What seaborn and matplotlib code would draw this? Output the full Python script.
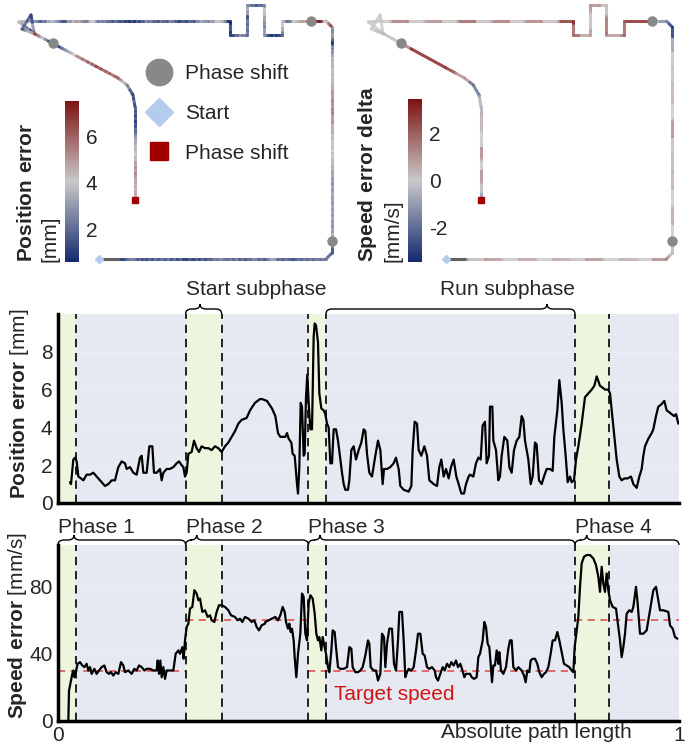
import numpy as np
import pandas as pd
import matplotlib
matplotlib.use("Agg")
import matplotlib.pyplot as plt
import matplotlib.transforms as mtransforms
import seaborn as sns
from matplotlib.collections import LineCollection
from matplotlib.colors import Normalize
from matplotlib.cm import ScalarMappable
from matplotlib.lines import Line2D
from matplotlib.path import Path
from matplotlib.patches import PathPatch

# ---- data -------------------------------------------------------------
TOTAL_MM = 1863  # total path length (arbitrary units)

pos_s = [36, 39, 46, 51, 56, 61, 69, 76, 86, 96, 106, 116, 126, 136, 141, 151, 161, 171, 181, 191,
         201, 206, 216, 226, 236, 246, 251, 256, 266, 274, 283, 288, 296, 306, 311, 316, 326, 336, 346, 356,
         363, 371, 376, 381, 386, 391, 401, 408, 416, 423, 431, 441, 451, 461, 471, 481, 491, 501, 511, 521,
         531, 541, 551, 566, 576, 591, 606,
         612, 627, 642, 652, 660, 667, 682, 687, 692, 700, 704, 710, 717, 720, 724, 728, 732, 737, 740, 744,
         748, 752, 757, 762, 767, 770, 774, 780, 784, 790, 797, 802, 807, 812, 817, 822, 827, 834, 840, 847,
         852, 857, 862, 870, 874, 880, 887, 894, 902, 910, 917, 922, 927, 934, 942, 952, 960, 967, 974, 978,
         987, 997, 1007, 1014, 1022, 1027, 1037, 1052, 1060, 1064, 1070, 1077, 1082, 1090, 1099, 1107, 1114,
         1127, 1137, 1144, 1150, 1157, 1164, 1172, 1179, 1187, 1195, 1202, 1210, 1218, 1224, 1232,
         1236, 1246, 1254, 1261, 1268, 1274, 1281, 1286, 1293, 1296, 1303, 1306, 1314, 1321, 1326, 1331,
         1339, 1348, 1354, 1361, 1368, 1376, 1384, 1391, 1396, 1401, 1411, 1418, 1424, 1431, 1436, 1443,
         1451, 1458, 1466, 1476, 1484, 1489, 1498, 1504, 1511, 1516, 1523, 1529, 1536, 1541, 1548, 1554,
         1561, 1571, 1581, 1591, 1601, 1609, 1616, 1626, 1634, 1641, 1651, 1656, 1664, 1671, 1676, 1684,
         1691, 1699, 1709, 1719, 1726, 1736, 1744, 1751, 1756, 1761, 1771, 1781, 1786, 1794, 1801, 1809,
         1819, 1826, 1834, 1841, 1848, 1854, 1861]
pos_err = [1.1, 1.0, 2.3, 2.4, 2.2, 1.4, 1.3, 1.2, 1.5, 1.5, 1.6, 1.4, 1.2, 1.0, 0.9, 1.0, 1.2, 1.2, 1.9, 2.2,
           2.1, 1.8, 1.9, 1.6, 1.5, 2.4, 2.5, 1.6, 1.6, 3.0, 3.0, 1.6, 1.6, 1.8, 1.2, 1.6, 1.8, 1.8, 1.9, 2.1,
           2.2, 2.0, 1.9, 1.4, 1.6, 2.6, 2.7, 3.3, 2.9, 2.7, 3.0, 2.9, 2.9, 2.8, 3.0, 2.9, 2.7, 3.0, 3.2, 3.5,
           3.8, 4.2, 4.4, 4.5, 4.9, 5.3, 5.5,
           5.5, 5.4, 5.0, 4.6, 3.7, 3.5, 3.5, 3.7, 3.4, 3.2, 2.6, 2.5, 1.0, 0.5, 1.9, 5.3, 5.1, 2.5, 2.6, 5.6,
           6.8, 5.3, 3.9, 3.9, 8.8, 9.5, 9.4, 8.5, 5.8, 5.0, 4.9, 4.7, 4.2, 4.0, 2.1, 2.1, 3.9, 3.9, 3.3, 2.3,
           1.6, 1.0, 0.7, 0.7, 1.2, 2.8, 3.0, 2.3, 2.8, 3.2, 3.9, 3.8, 2.6, 1.6, 1.4, 2.5, 3.3, 2.8, 1.0, 1.8,
           1.8, 1.9, 2.1, 2.4, 1.8, 0.9, 0.7, 0.6, 0.9, 2.8, 4.3, 4.2, 2.8, 2.5, 3.0, 2.5, 1.2, 1.0, 0.9, 1.9,
           2.3, 1.4, 1.8, 1.3, 1.9, 2.3, 1.4, 1.0, 0.5, 0.5, 1.0, 1.4,
           1.5, 1.4, 2.1, 2.4, 2.3, 4.1, 4.3, 2.1, 2.5, 5.1, 5.1, 3.3, 2.8, 1.2, 1.4, 2.5, 3.5, 3.3, 1.9, 1.6,
           2.8, 3.3, 3.5, 4.6, 4.4, 3.3, 2.3, 1.0, 1.4, 3.2, 3.1, 1.2, 1.0, 1.4, 1.8, 1.8, 1.7, 3.5, 4.9, 6.5,
           5.3, 3.9, 2.5, 1.1, 1.4, 1.1, 1.2, 2.3, 3.0, 4.2, 5.6, 5.8, 6.0, 6.2, 6.7, 6.2, 6.1, 6.0, 6.0, 5.8,
           4.4, 3.2, 2.3, 1.4, 1.2, 1.3, 1.3, 1.4, 1.0, 0.8, 1.4, 1.8, 2.5, 3.0, 3.4, 3.7, 3.9, 4.6, 5.1, 5.2,
           5.4, 4.9, 4.8, 4.7, 4.6, 4.7, 4.2]

spd_s = [31, 33, 39, 43, 46, 49, 53, 59, 66, 73, 79, 86, 91, 96, 101, 109, 116, 123, 131, 139,
         146, 153, 159, 166, 173, 181, 189, 196, 201, 211, 221, 229, 236, 243, 251, 259, 266, 276, 286, 296,
         299, 303, 307, 311, 316, 321, 326, 336, 346, 353, 361, 366, 373, 377, 381, 386, 391, 396, 403, 409,
         416, 421, 426, 433, 441, 449, 456, 461, 469, 476, 483, 491, 501, 511, 519, 531, 539, 546, 553, 561,
         571, 581, 589, 596, 603, 611, 621,
         622, 632, 642, 652, 660, 667, 674, 680, 684, 690, 694, 698, 702, 707, 710, 715, 720, 727, 732,
         737, 742, 747, 752, 757, 764, 770, 775, 780, 784, 790, 794, 800, 804, 810, 814, 820, 824, 830, 834,
         840, 847, 857, 867, 874, 880, 884, 892, 900, 907, 914, 922, 930, 934, 938, 947, 954, 960, 967, 972,
         978, 982, 987, 994, 1002, 1008, 1014, 1020, 1024, 1032, 1037, 1042, 1047, 1052, 1060, 1067, 1074,
         1080, 1087, 1094, 1100, 1107, 1114, 1122, 1130, 1134, 1140, 1147, 1154, 1160, 1167, 1174, 1180,
         1187, 1194, 1200, 1207, 1212, 1219, 1224, 1232,
         1236, 1241, 1248, 1256, 1261, 1266, 1274, 1279, 1284, 1289, 1294, 1298, 1302, 1306, 1311, 1316,
         1321, 1324, 1329, 1336, 1344, 1351, 1356, 1361, 1366, 1374, 1381, 1391, 1398, 1403, 1408, 1414,
         1418, 1424, 1431, 1438, 1444, 1451, 1458, 1464, 1471, 1478, 1484, 1491, 1498, 1504, 1511, 1518,
         1526, 1534, 1541, 1546, 1550, 1556, 1561, 1566, 1571, 1578, 1586, 1596, 1606, 1614, 1621, 1626,
         1631, 1636, 1641, 1646, 1651, 1656, 1664, 1674, 1681, 1686, 1691, 1696, 1701, 1706, 1714, 1721,
         1726, 1734, 1739, 1746, 1756, 1766, 1776, 1786, 1794, 1801, 1806, 1816, 1831, 1836, 1844, 1851, 1858]
spd_err = [0, 18, 24, 28, 30, 26, 29, 34, 35, 33, 32, 34, 30, 32, 28, 31, 28, 30, 32, 33,
           29, 28, 29, 27, 29, 28, 35, 33, 29, 30, 28, 31, 30, 33, 32, 30, 31, 31, 30, 30,
           36, 28, 36, 26, 32, 25, 30, 30, 30, 40, 42, 40, 44, 37, 48, 56, 58, 67, 68, 78,
           76, 72, 73, 65, 66, 62, 63, 60, 59, 65, 69, 69, 68, 66, 63, 62, 60, 61, 59, 62,
           61, 59, 60, 56, 54, 57, 58,
           59, 60, 61, 62, 60, 63, 68, 65, 59, 55, 58, 53, 55, 48, 38, 26, 40, 52, 76,
           74, 52, 48, 70, 75, 73, 64, 52, 48, 50, 42, 50, 44, 40, 32, 29, 42, 54, 53, 44,
           32, 31, 31, 32, 44, 43, 32, 29, 29, 30, 32, 39, 48, 46, 32, 30, 30, 24, 28, 52,
           50, 32, 46, 55, 55, 34, 30, 48, 65, 65, 48, 26, 29, 31, 30, 32, 42, 52, 52, 40,
           39, 32, 31, 32, 30, 26, 24, 28, 32, 30, 34, 32, 35, 33, 36, 32, 34, 31, 26, 28, 28,
           28, 26, 25, 26, 38, 40, 48, 59, 56, 46, 44, 34, 23, 33, 33, 42, 34, 41, 30, 28,
           32, 43, 48, 48, 32, 30, 32, 30, 27, 23, 30, 29, 36, 37, 37, 34, 29, 26, 28, 29,
           32, 40, 48, 48, 53, 48, 41, 34, 33, 32, 30, 29, 44, 54, 62, 80, 94, 98, 99, 99,
           97, 93, 86, 77, 92, 82, 77, 88, 78, 72, 68, 67, 56, 48, 38, 44, 52, 64, 66, 65,
           68, 80, 70, 52, 52, 54, 66, 78, 80, 72, 66, 66, 65, 57, 55, 50, 49]

# phases (path length units)
phase_start = [0, 383, 751, 1551]
phase_end = [383, 751, 1551, 1863]
start_sub_end = [54, 491, 804, 1654]
target_speed = [30, 60, 30, 60]
phase_labels = ["Phase 1", "Phase 2", "Phase 3", "Phase 4"]
phase_tips = [48, 416, 786, 1586]
sub_labels = ["Start subphase", "Run subphase"]
sub_start = [383, 804]
sub_end = [491, 1551]
sub_tips = [426, 1467]

# tool path (left map frame, pixel-like units, y down)
path_x = [99, 326, 332, 332, 326, 282, 282, 264, 264, 247, 247, 230, 230, 33,
          19, 34, 31, 22, 35, 118, 127, 133, 135, 135]
path_y = [259, 259, 253, 27, 21, 21, 35, 35, 5, 5, 35, 35, 21, 21,
          22, 33, 15, 29, 34, 78, 85, 95, 107, 200]
shift_at = [0.214, 0.420, 0.825]

# speed error delta along the path (fraction of path length)
delta_at = [0.0, 0.019, 0.035, 0.05, 0.065, 0.08, 0.095, 0.11, 0.125, 0.14, 0.155, 0.17, 0.185, 0.20,
            0.215, 0.23, 0.245, 0.26, 0.275, 0.29, 0.305, 0.32, 0.335, 0.35, 0.365, 0.38, 0.392, 0.405,
            0.415, 0.424, 0.445, 0.46, 0.475, 0.49, 0.505, 0.52, 0.535, 0.55, 0.565, 0.58, 0.595, 0.61,
            0.625, 0.64, 0.655, 0.67, 0.685, 0.70, 0.715, 0.73, 0.745, 0.775, 0.80, 0.825, 0.835, 0.87,
            0.88, 0.895, 0.91, 0.925, 0.94, 0.955, 0.965, 0.975, 0.985, 0.995]
delta_val = [np.nan, 0.4, 1.0, 0.1, 0.8, 0.0, 0.7, 0.2, 1.1, 0.0, 0.6, 0.1, 1.3, 0.4,
             0.0, 0.8, 0.0, 0.5, -0.4, 0.3, 1.2, 0.0, 0.5, -0.3, 0.2, -1.0, -3.3, -1.5,
             0.0, 3.2, 2.0, 1.0, 1.8, 0.4, 1.2, 0.3, 0.9, 2.0, 3.0, 0.3, 1.4, 0.2,
             1.6, 0.3, 2.0, 0.2, 1.2, 0.2, 1.6, 0.1, 0.0, 0.0, 0.3, 1.5, 3.3, 2.8,
             1.0, -2.0, -0.6, 0.6, 0.1, 1.3, 0.1, 1.2, -0.4, -1.0]

# ---- style ------------------------------------------------------------
sns.set_theme(style="darkgrid", rc={
    "axes.facecolor": "#e6e9f1",
    "grid.color": "#eceef5",
    "grid.linewidth": 0.8,
})
plt.rcParams["font.family"] = ["Liberation Sans", "DejaVu Sans"]
plt.rcParams["mathtext.fontset"] = "custom"
plt.rcParams["mathtext.rm"] = "Liberation Sans"
plt.rcParams["mathtext.bf"] = "Liberation Sans:bold"
plt.rcParams["axes.unicode_minus"] = False
FS = 15

W, H = 699, 746
fig = plt.figure(figsize=(W / 100, H / 100), dpi=100)

ax_pos = fig.add_axes([58 / W, 243 / H, 621 / W, 189 / H])
ax_spd = fig.add_axes([58 / W, 25.3 / H, 621 / W, 175.7 / H])
ax_map1 = fig.add_axes([0, 478 / H, 340 / W, 268 / H])
ax_map2 = fig.add_axes([350 / W, 478 / H, 330 / W, 268 / H])
cax1 = fig.add_axes([65 / W, 484 / H, 14 / W, 161 / H])
cax2 = fig.add_axes([408 / W, 484 / H, 14 / W, 163 / H])

pos_df = pd.DataFrame({"x": np.array(pos_s) / TOTAL_MM, "err": pos_err})
spd_df = pd.DataFrame({"x": np.array(spd_s) / TOTAL_MM, "err": spd_err})


def brace(ax, x0, x1, tip):
    bb = ax.get_position()
    w_px = bb.width * W
    h_px = bb.height * H
    r = 6 / w_px
    h = 5 / h_px
    verts = [(x0, 1), (x0, 1 + h), (x0 + r, 1 + h), (tip - r, 1 + h), (tip, 1 + h), (tip, 1 + 2 * h),
             (tip, 1 + h), (tip + r, 1 + h), (x1 - r, 1 + h), (x1, 1 + h), (x1, 1)]
    codes = [Path.MOVETO, Path.CURVE3, Path.CURVE3, Path.LINETO, Path.CURVE3, Path.CURVE3,
             Path.CURVE3, Path.CURVE3, Path.LINETO, Path.CURVE3, Path.CURVE3]
    trans = mtransforms.blended_transform_factory(ax.transData, ax.transAxes)
    ax.add_patch(PathPatch(Path(verts, codes), fc="none", ec="black", lw=1.0,
                           transform=trans, clip_on=False))


def text_above(ax, x, label, px, ha="left"):
    bb = ax.get_position()
    trans = mtransforms.blended_transform_factory(ax.transData, ax.transAxes)
    ax.text(x, 1 + px / (bb.height * H), label, transform=trans, ha=ha, va="baseline",
            fontsize=FS, clip_on=False)


def shade(ax):
    for a, b in zip(phase_start, start_sub_end):
        ax.axvspan(a / TOTAL_MM, b / TOTAL_MM, color="#eef5df", lw=0, zorder=1)
    for b in phase_start[1:] + start_sub_end:
        ax.axvline(b / TOTAL_MM, color="black", lw=1.2, ls=(0, (5, 3.5)), zorder=3)


def style_axis(ax):
    ax.set_xlim(0, 1)
    for side in ["top", "right"]:
        ax.spines[side].set_visible(False)
    for side in ["left", "bottom"]:
        ax.spines[side].set_visible(True)
        ax.spines[side].set_color("black")
        ax.spines[side].set_linewidth(2.5)
    ax.tick_params(labelsize=FS, pad=4, length=0)


# ---- position error ---------------------------------------------------
shade(ax_pos)
sns.lineplot(data=pos_df, x="x", y="err", ax=ax_pos, color="black", lw=1.6,
             estimator=None, zorder=4)
style_axis(ax_pos)
ax_pos.set_ylim(0, 10)
ax_pos.set_yticks([0, 2, 4, 6, 8])
ax_pos.set_xticks([0, 1])
ax_pos.set_xticklabels([])
ax_pos.set_xlabel("")
ax_pos.set_ylabel(r"$\mathbf{Position\ error}$ [mm]", fontsize=FS)
ax_pos.yaxis.set_label_coords(-0.043, 0.524)
for a, b, t in zip(sub_start, sub_end, sub_tips):
    brace(ax_pos, a / TOTAL_MM, b / TOTAL_MM, t / TOTAL_MM)
text_above(ax_pos, sub_start[0] / TOTAL_MM, sub_labels[0], 19, "left")
text_above(ax_pos, sub_end[1] / TOTAL_MM, sub_labels[1], 19, "right")

# ---- speed error ------------------------------------------------------
shade(ax_spd)
ax_spd.hlines(target_speed, np.array(phase_start) / TOTAL_MM, np.array(phase_end) / TOTAL_MM,
              colors="#e06060", linestyles=(0, (4, 3)), lw=1.3, zorder=2)
sns.lineplot(data=spd_df, x="x", y="err", ax=ax_spd, color="black", lw=1.6,
             estimator=None, zorder=4)
style_axis(ax_spd)
ax_spd.set_ylim(0, 105)
ax_spd.set_yticks([0, 40, 80])
ax_spd.set_xticks([0, 1])
ax_spd.set_xticklabels(["0", "1"])
ax_spd.set_xlabel("")
ax_spd.set_ylabel(r"$\mathbf{Speed\ error}$ [mm/s]", fontsize=FS)
ax_spd.yaxis.set_label_coords(-0.046, 0.542)
ax_spd.text(0.924, -0.07, "Absolute path length", transform=ax_spd.transAxes,
            ha="right", va="center", fontsize=FS)
ax_spd.text(827 / TOTAL_MM, 15.5, "Target speed", color="#d01515", fontsize=FS, va="center")
for a, b, t, lab in zip(phase_start, phase_end, phase_tips, phase_labels):
    brace(ax_spd, a / TOTAL_MM, b / TOTAL_MM, t / TOTAL_MM)
    text_above(ax_spd, a / TOTAL_MM, lab, 12, "left")

# ---- maps -------------------------------------------------------------
seg_len = np.hypot(np.diff(path_x), np.diff(path_y))
path_frac = np.concatenate([[0], np.cumsum(seg_len)]) / seg_len.sum()
cmap = sns.blend_palette(["#14296e", "#c9c9c9", "#7d1212"], as_cmap=True)
cmap.set_bad("#3a3a3a")


def draw_map(ax, frac, values, norm):
    frac = np.asarray(frac, dtype=float)
    values = np.asarray(values, dtype=float)
    all_f = np.union1d(frac, path_frac)
    idx = np.clip(np.searchsorted(frac, all_f, side="right") - 1, 0, len(frac) - 1)
    vals = values[idx]
    xs = np.interp(all_f, path_frac, path_x)
    ys = np.interp(all_f, path_frac, path_y)
    pts = np.column_stack([xs, ys])
    segs = np.stack([pts[:-1], pts[1:]], axis=1)
    lc = LineCollection(segs, cmap=cmap, norm=norm, linewidths=2.2, capstyle="round", alpha=0.8)
    lc.set_array(np.ma.masked_invalid(vals[:-1]))
    ax.add_collection(lc)
    sx = np.interp(shift_at, path_frac, path_x)
    sy = np.interp(shift_at, path_frac, path_y)
    ax.plot(sx, sy, "o", color="#888888", ms=6.5, zorder=5)
    ax.plot(path_x[0], path_y[0], "D", color="#b4cbee", ms=4, zorder=5)
    ax.plot(path_x[-1], path_y[-1], "s", color="#a00000", ms=5, zorder=5)
    ax.set_xlim(0, 340)
    ax.set_ylim(268, 0)
    ax.axis("off")


norm1 = Normalize(0.6, 7.5)
norm2 = Normalize(-3.45, 3.45)
map_frac = np.concatenate([[0], np.array(pos_s) / TOTAL_MM])
map_vals = np.concatenate([[np.nan], pos_err])
draw_map(ax_map1, map_frac, map_vals, norm1)
draw_map(ax_map2, delta_at, delta_val, norm2)

for cax, norm, ticks, lab in [
    (cax1, norm1, [2, 4, 6], r"$\mathbf{Position\ error}$" + "\n[mm]"),
    (cax2, norm2, [-2, 0, 2], r"$\mathbf{Speed\ error\ delta}$" + "\n[mm/s]"),
]:
    cb = fig.colorbar(ScalarMappable(norm=norm, cmap=cmap), cax=cax, ticks=ticks)
    cb.outline.set_visible(False)
    cax.tick_params(labelsize=FS, length=0, pad=5)
    cax.yaxis.set_label_position("left")
    cax.set_ylabel(lab, fontsize=FS, loc="bottom", linespacing=1.3, multialignment="left")
    cax.yaxis.set_label_coords(-0.36, 0)

handles = [
    Line2D([], [], ls="", marker="o", color="#888888", ms=19),
    Line2D([], [], ls="", marker="D", color="#b4cbee", ms=14),
    Line2D([], [], ls="", marker="s", color="#a00000", ms=13),
]
fig.legend(handles, ["Phase shift", "Start", "Phase shift"], loc="upper left",
           bbox_to_anchor=(143 / W, 1 - 64 / H), frameon=False, fontsize=FS,
           borderpad=0, borderaxespad=0, handlelength=1.5, handletextpad=0.5, labelspacing=1.0)

fig.savefig("out.png", dpi=100)
